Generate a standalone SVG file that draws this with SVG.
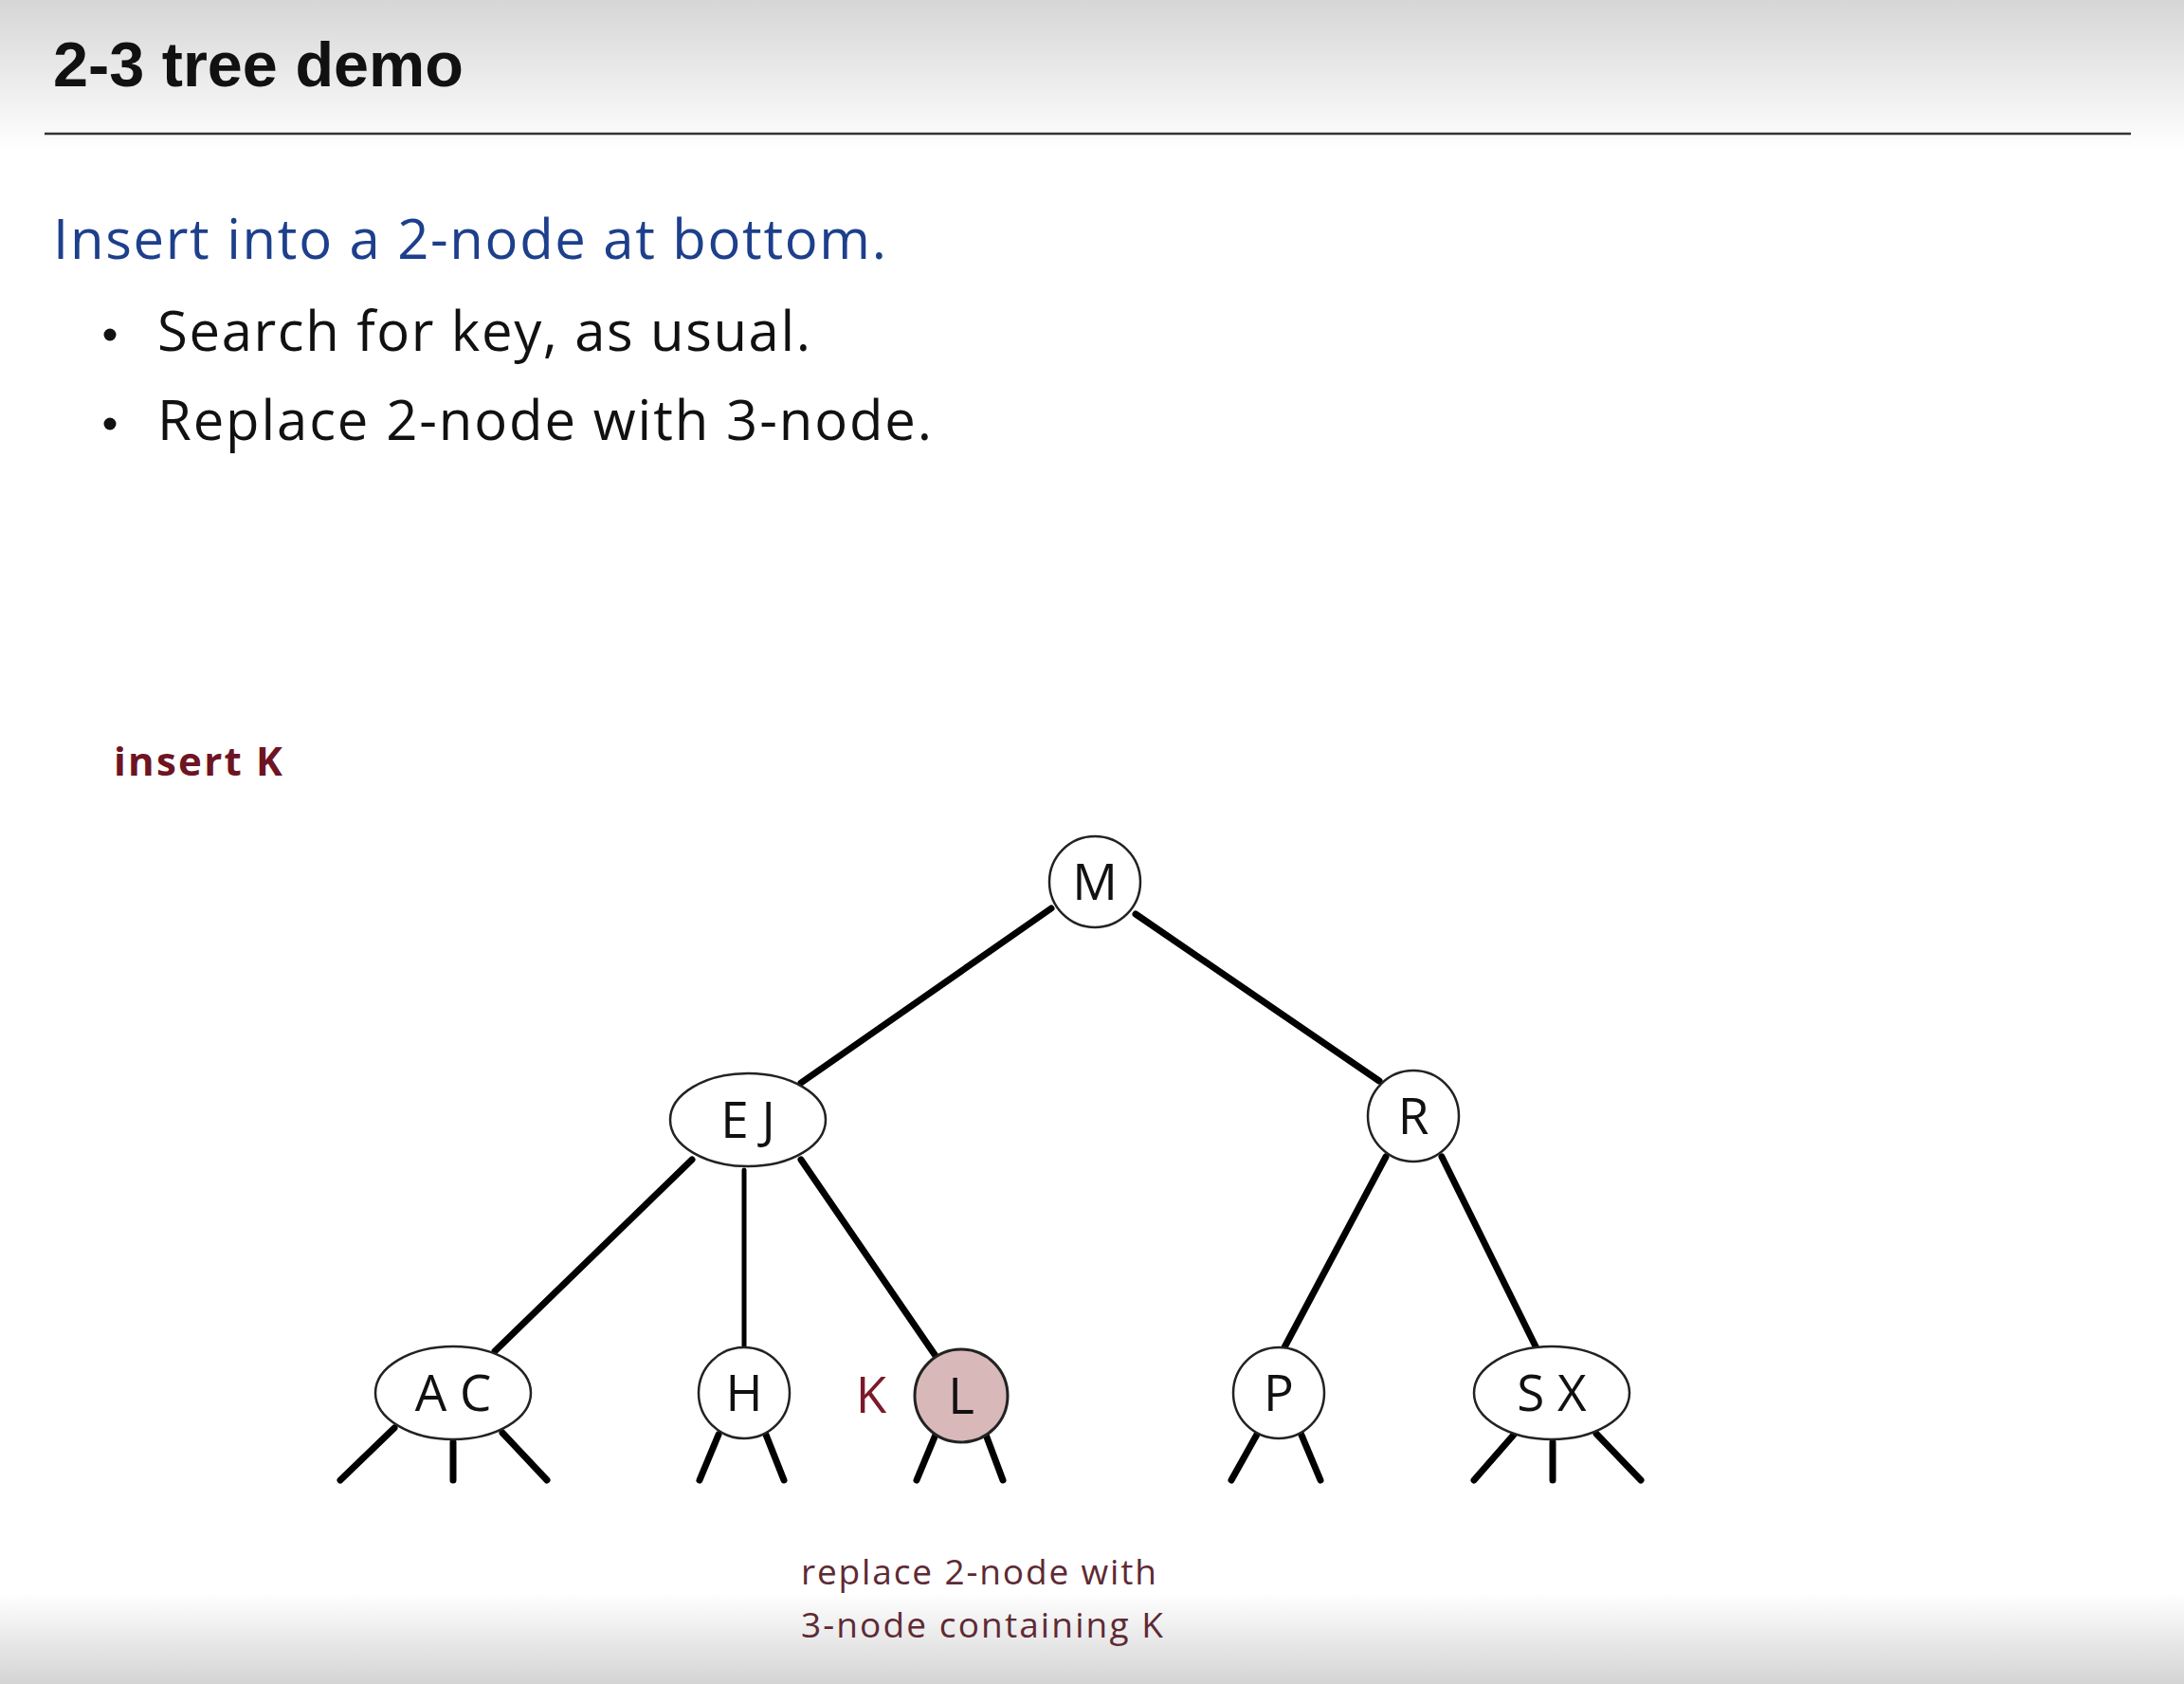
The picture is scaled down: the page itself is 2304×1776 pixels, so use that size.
<svg xmlns="http://www.w3.org/2000/svg" width="2304" height="1776" viewBox="0 0 2304 1776">
  <defs>
    <linearGradient id="topShade" x1="0" y1="0" x2="0" y2="1">
      <stop offset="0" stop-color="#d6d6d6"/>
      <stop offset="1" stop-color="#ffffff"/>
    </linearGradient>
    <linearGradient id="bottomShade" x1="0" y1="0" x2="0" y2="1">
      <stop offset="0" stop-color="#ffffff"/>
      <stop offset="1" stop-color="#d4d4d4"/>
    </linearGradient>
    <style>
      .title { font-family: "Liberation Sans Narrow", "Liberation Sans", sans-serif; font-weight: bold; font-size: 66px; fill: #111; }
      .head { font-family: "Open Sans", "DejaVu Sans", sans-serif; font-size: 58px; fill: #1d3f8c; }
      .bullet { font-family: "Open Sans", "DejaVu Sans", sans-serif; font-size: 58px; fill: #111; }
      .dot { fill: #111; }
      .note { font-family: "Open Sans", "DejaVu Sans", sans-serif; font-weight: bold; font-size: 42px; fill: #6e1422; }
      .caption { font-family: "Open Sans", "DejaVu Sans", sans-serif; font-size: 37px; fill: #5e2a34; }
      .key { font-family: "Open Sans", "DejaVu Sans", sans-serif; font-size: 53px; fill: #111; text-anchor: middle; }
      .newkey { font-family: "Open Sans", "DejaVu Sans", sans-serif; font-size: 53px; fill: #7a1a2a; text-anchor: middle; }
      .node { fill: #ffffff; stroke: #222; stroke-width: 2.5; }
      .hit { fill: #d8b8b9; stroke: #222; stroke-width: 3; }
      .link { stroke: #000; stroke-width: 7; stroke-linecap: round; fill: none; }
      .thin { stroke-width: 5; }
    </style>
  </defs>

  <!-- page background -->
  <rect x="0" y="0" width="2304" height="1776" fill="#ffffff"/>
  <rect x="0" y="0" width="2304" height="160" fill="url(#topShade)"/>
  <rect x="0" y="1680" width="2304" height="96" fill="url(#bottomShade)"/>

  <!-- heading -->
  <text class="title" x="56" y="91" textLength="433" lengthAdjust="spacingAndGlyphs">2-3 tree demo</text>
  <line x1="47" y1="141" x2="2248" y2="141" stroke="#333" stroke-width="2.5"/>

  <text class="head" x="56" y="273" textLength="879">Insert into a 2-node at bottom.</text>
  <circle class="dot" cx="116" cy="353" r="6.5"/>
  <text class="bullet" x="166" y="370" textLength="689">Search for key, as usual.</text>
  <circle class="dot" cx="116" cy="447" r="6.5"/>
  <text class="bullet" x="166" y="464" textLength="817">Replace 2-node with 3-node.</text>

  <text class="note" x="120" y="818" textLength="178">insert K</text>

  <!-- tree links -->
  <g id="links">
    <line class="link" x1="1109" y1="958" x2="845" y2="1142"/>
    <line class="link" x1="1198" y1="964" x2="1455" y2="1140"/>
    <line class="link" x1="730" y1="1223" x2="522" y2="1425"/>
    <line class="link thin" x1="785" y1="1234" x2="785" y2="1421"/>
    <line class="link" x1="845" y1="1223" x2="987" y2="1430"/>
    <line class="link" x1="1462" y1="1220" x2="1355" y2="1421"/>
    <line class="link" x1="1521" y1="1220" x2="1621" y2="1422"/>
    <!-- null links below the leaves -->
    <line class="link" x1="416" y1="1506" x2="359" y2="1561"/>
    <line class="link" x1="478" y1="1521" x2="478" y2="1561"/>
    <line class="link" x1="530" y1="1511" x2="577" y2="1561"/>
    <line class="link" x1="758" y1="1513" x2="738" y2="1561"/>
    <line class="link" x1="808" y1="1513" x2="827" y2="1561"/>
    <line class="link" x1="987" y1="1513" x2="967" y2="1561"/>
    <line class="link" x1="1040" y1="1513" x2="1058" y2="1561"/>
    <line class="link" x1="1327" y1="1511" x2="1299" y2="1561"/>
    <line class="link" x1="1372" y1="1511" x2="1393" y2="1561"/>
    <line class="link" x1="1597" y1="1513" x2="1555" y2="1561"/>
    <line class="link" x1="1638" y1="1521" x2="1638" y2="1561"/>
    <line class="link" x1="1684" y1="1512" x2="1731" y2="1561"/>
  </g>

  <!-- tree nodes -->
  <g id="node-M">
    <circle class="node" cx="1155" cy="930" r="48"/>
    <text class="key" x="1155" y="949">M</text>
  </g>
  <g id="node-EJ">
    <ellipse class="node" cx="789" cy="1181" rx="82" ry="49"/>
    <text class="key" x="789" y="1200">E J</text>
  </g>
  <g id="node-R">
    <circle class="node" cx="1491" cy="1177" r="48"/>
    <text class="key" x="1491" y="1196">R</text>
  </g>
  <g id="node-AC">
    <ellipse class="node" cx="478" cy="1469" rx="82" ry="49"/>
    <text class="key" x="478" y="1488">A C</text>
  </g>
  <g id="node-H">
    <circle class="node" cx="785" cy="1469" r="48"/>
    <text class="key" x="785" y="1488">H</text>
  </g>
  <g id="node-L">
    <circle class="hit" cx="1014" cy="1472" r="49"/>
    <text class="key" x="1014" y="1491">L</text>
  </g>
  <g id="key-K">
    <text class="newkey" x="919" y="1490">K</text>
  </g>
  <g id="node-P">
    <circle class="node" cx="1349" cy="1469" r="48"/>
    <text class="key" x="1349" y="1488">P</text>
  </g>
  <g id="node-SX">
    <ellipse class="node" cx="1637" cy="1469" rx="82" ry="49"/>
    <text class="key" x="1637" y="1488">S X</text>
  </g>

  <!-- step caption -->
  <text class="caption" x="845" y="1671" textLength="375">replace 2-node with</text>
  <text class="caption" x="845" y="1727" textLength="382">3-node containing K</text>
</svg>
